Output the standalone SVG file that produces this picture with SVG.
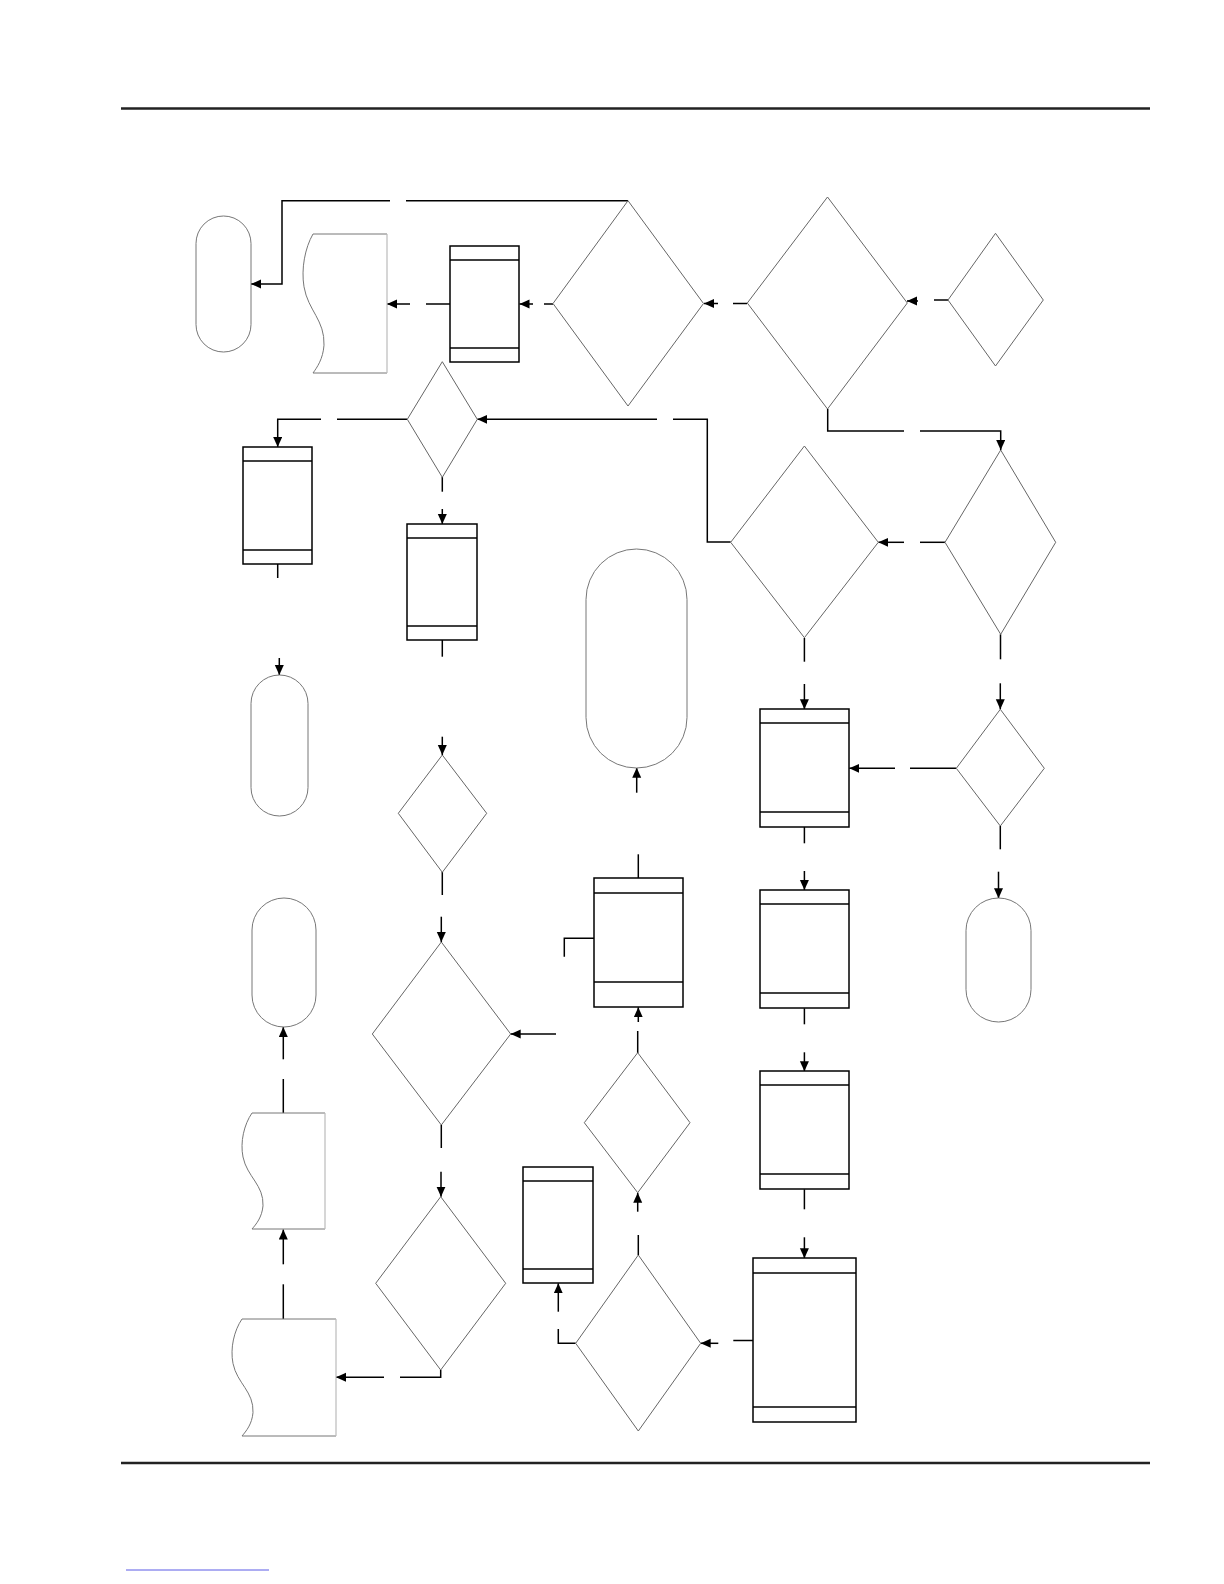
<svg xmlns="http://www.w3.org/2000/svg" width="1224" height="1584" viewBox="0 0 1224 1584">
<defs>
<marker id="ah" markerUnits="userSpaceOnUse" markerWidth="11" markerHeight="10" refX="10" refY="4.5" orient="auto">
<path d="M0,0 L10,4.5 L0,9 z" fill="#000"/>
</marker>
<style>
.c{fill:none;stroke:#000;stroke-width:1.5}
.a{fill:none;stroke:#000;stroke-width:1.5;marker-end:url(#ah)}
.box{fill:#fff;stroke:#000;stroke-width:1.5}
.band{stroke:#000;stroke-width:1.5}
.dia{fill:#fff;stroke:#666;stroke-width:1}
.term{fill:#fff;stroke:#777;stroke-width:1}
.doc{fill:#fff;stroke:#777;stroke-width:1}
.docr{stroke:#bbb;stroke-width:1.2}
.rule{stroke:#222;stroke-width:2.5}
</style>
</defs>
<rect width="1224" height="1584" fill="#fff"/>
<line class="rule" x1="121" y1="108.5" x2="1150" y2="108.5"/>
<line class="rule" x1="121" y1="1463" x2="1150" y2="1463"/>
<line x1="126" y1="1570" x2="269" y2="1570" stroke="#5a5ae6" stroke-width="1"/>

<g id="connectors">
<polyline class="c" points="628,200.7 406,200.7"/>
<polyline class="a" points="390,200.7 282,200.7 282,284 251,284"/>
<polyline class="c" points="553,304 544,304"/>
<polyline class="a" points="533,304 519.5,304"/>
<polyline class="c" points="450,304 426,304"/>
<polyline class="a" points="410,304 387,304"/>
<polyline class="c" points="747,303.5 733,303.5"/>
<polyline class="a" points="718,303.5 704,303.5"/>
<polyline class="c" points="948,300 934,300"/>
<polyline class="a" points="918,301 907,301"/>
<polyline class="c" points="827.7,409 827.7,431 904,431"/>
<polyline class="a" points="920,431 1000.7,431 1000.7,450"/>
<polyline class="c" points="945,542.3 920,542.3"/>
<polyline class="a" points="904,542.3 878.3,542.3"/>
<polyline class="c" points="730.7,542 707.3,542 707.3,419.3 673,419.3"/>
<polyline class="a" points="657,419.3 477.3,419.3"/>
<polyline class="c" points="407.3,419.3 337,419.3"/>
<polyline class="a" points="321,419.3 277.7,419.3 277.7,447"/>
<polyline class="c" points="442.3,477 442.3,491.7"/>
<polyline class="a" points="442.3,509 442.3,524"/>
<polyline class="c" points="277.7,564 277.7,578"/>
<polyline class="a" points="279.3,658 279.3,675"/>
<polyline class="c" points="442.3,640 442.3,656.7"/>
<polyline class="a" points="442.3,736.7 442.3,755"/>
<polyline class="c" points="442.3,872 442.3,895"/>
<polyline class="a" points="441.3,916.7 441.3,942"/>
<polyline class="c" points="441.3,1125 441.3,1148"/>
<polyline class="a" points="441,1171.7 441,1196.7"/>
<polyline class="c" points="440.7,1370 440.7,1377.3 400,1377.3"/>
<polyline class="a" points="384,1377.3 336,1377.3"/>
<polyline class="c" points="283.3,1319.3 283.3,1284.3"/>
<polyline class="a" points="283.3,1264.3 283.3,1229.5"/>
<polyline class="c" points="283.3,1113.3 283.3,1079"/>
<polyline class="a" points="283.3,1059.3 283.3,1027"/>
<polyline class="c" points="804.4,638 804.4,661.7"/>
<polyline class="a" points="804.4,684 804.4,709.3"/>
<polyline class="c" points="1000.5,634.3 1000.5,659.3"/>
<polyline class="a" points="1000.3,683.3 1000.3,709.3"/>
<polyline class="c" points="956.3,768.3 910,768.3"/>
<polyline class="a" points="895,768.3 849.3,768.3"/>
<polyline class="c" points="1000.3,826 1000.3,849.3"/>
<polyline class="a" points="998.5,871.7 998.5,898.3"/>
<polyline class="c" points="804.4,827 804.4,843.3"/>
<polyline class="a" points="804.4,871 804.4,890"/>
<polyline class="c" points="804.4,1008.3 804.4,1024.3"/>
<polyline class="a" points="804.4,1052.3 804.4,1071.3"/>
<polyline class="c" points="804.4,1189.3 804.4,1209.3"/>
<polyline class="a" points="804.4,1237.3 804.4,1258.3"/>
<polyline class="c" points="753.3,1340.5 733.3,1340.5"/>
<polyline class="a" points="718.3,1343.3 700.7,1343.3"/>
<polyline class="c" points="575.7,1343.3 558.3,1343.3 558.3,1329"/>
<polyline class="a" points="558.3,1311.7 558.3,1283.3"/>
<polyline class="c" points="638.3,1255 638.3,1235"/>
<polyline class="a" points="637.7,1211.7 637.7,1192.7"/>
<polyline class="c" points="637.7,1053 637.7,1031"/>
<polyline class="a" points="638.3,1022 638.3,1007.3"/>
<polyline class="c" points="638.3,878.3 638.3,854.3"/>
<polyline class="a" points="636.7,792.7 636.7,767.7"/>
<polyline class="c" points="594.3,938.3 564.3,938.3 564.3,956.7"/>
<polyline class="a" points="556,1034 510.7,1034"/>
</g>

<g id="t1"><rect class="term" x="196" y="216" width="55" height="136" rx="27.5"/></g>
<g id="t2"><rect class="term" x="251" y="675" width="57" height="141" rx="28.5"/></g>
<g id="t3"><rect class="term" x="252" y="898" width="64" height="129" rx="32"/></g>
<g id="t4"><rect class="term" x="586" y="549" width="101" height="219" rx="50.5"/></g>
<g id="t5"><rect class="term" x="966" y="898" width="65" height="124" rx="32.5"/></g>

<g id="doc1">
<path class="doc" d="M387,234 L313,234 C305,247.9 301,268.75 304,286.8 C308,310.5 325,320.2 324,345.2 C323,359.1 317,367.4 313,373 L387,373"/>
<line class="docr" x1="387" y1="234" x2="387" y2="373"/>
</g>
<g id="doc2">
<path class="doc" d="M325,1113 L252,1113 C244,1124.6 240,1142 243,1157 C247,1176.8 264,1185 263,1205.8 C262,1217.4 256,1224.4 252,1229 L325,1229"/>
<line class="docr" x1="325" y1="1113" x2="325" y2="1229"/>
</g>
<g id="doc3">
<path class="doc" d="M336,1319 L242,1319 C234,1330.7 230,1348.3 233,1363.5 C237,1383.4 254,1391.5 253,1412.6 C252,1424.3 246,1431.3 242,1436 L336,1436"/>
<line class="docr" x1="336" y1="1319" x2="336" y2="1436"/>
</g>

<g id="boxP1"><rect class="box" x="450" y="246" width="69" height="116"/><line class="band" x1="450" y1="260" x2="519" y2="260"/><line class="band" x1="450" y1="348" x2="519" y2="348"/></g>
<g id="boxA"><rect class="box" x="243" y="447" width="69" height="117"/><line class="band" x1="243" y1="461" x2="312" y2="461"/><line class="band" x1="243" y1="550" x2="312" y2="550"/></g>
<g id="boxB"><rect class="box" x="407" y="524" width="70" height="116"/><line class="band" x1="407" y1="538" x2="477" y2="538"/><line class="band" x1="407" y1="626" x2="477" y2="626"/></g>
<g id="boxC"><rect class="box" x="594" y="878" width="89" height="129"/><line class="band" x1="594" y1="893" x2="683" y2="893"/><line class="band" x1="594" y1="982" x2="683" y2="982"/></g>
<g id="boxD"><rect class="box" x="760" y="709" width="89" height="118"/><line class="band" x1="760" y1="723" x2="849" y2="723"/><line class="band" x1="760" y1="812" x2="849" y2="812"/></g>
<g id="boxE"><rect class="box" x="760" y="890" width="89" height="118"/><line class="band" x1="760" y1="904" x2="849" y2="904"/><line class="band" x1="760" y1="993" x2="849" y2="993"/></g>
<g id="boxF"><rect class="box" x="760" y="1071" width="89" height="118"/><line class="band" x1="760" y1="1085" x2="849" y2="1085"/><line class="band" x1="760" y1="1174" x2="849" y2="1174"/></g>
<g id="boxG"><rect class="box" x="753" y="1258" width="103" height="164"/><line class="band" x1="753" y1="1273" x2="856" y2="1273"/><line class="band" x1="753" y1="1407" x2="856" y2="1407"/></g>
<g id="boxH"><rect class="box" x="523" y="1167" width="70" height="116"/><line class="band" x1="523" y1="1181" x2="593" y2="1181"/><line class="band" x1="523" y1="1269" x2="593" y2="1269"/></g>

<g id="d1"><polygon class="dia" points="628,200.7 703.5,303.5 628,406 553,303.5"/></g>
<g id="d2"><polygon class="dia" points="827.5,197 907.3,303 827.5,409 747.3,303"/></g>
<g id="d3"><polygon class="dia" points="995.5,233.3 1043.3,300 995.5,366 948,300"/></g>
<g id="d4"><polygon class="dia" points="442.3,361.7 477.3,419.3 442.3,477.3 407.3,419.3"/></g>
<g id="d5"><polygon class="dia" points="804.4,446 878.3,542.3 804.4,637.7 730.7,542.3"/></g>
<g id="d11"><polygon class="dia" points="1000.7,450 1055.7,542.3 1000.7,634.3 945,542.3"/></g>
<g id="d12"><polygon class="dia" points="1000.3,709.3 1044.3,768.3 1000.3,826 956.3,768.3"/></g>
<g id="d6"><polygon class="dia" points="442.3,755 486.7,813.3 442.3,872.3 398.3,813.3"/></g>
<g id="d7"><polygon class="dia" points="441.3,942 510.7,1034 441.3,1125 372.3,1034"/></g>
<g id="d8"><polygon class="dia" points="440.7,1196.7 505.7,1283.3 440.7,1370 375.7,1283.3"/></g>
<g id="d9"><polygon class="dia" points="637.7,1052.7 690,1122.7 637.7,1192.7 584.3,1122.7"/></g>
<g id="d10"><polygon class="dia" points="638.3,1255 700.7,1343.3 638.3,1431 575.7,1343.3"/></g>
</svg>
